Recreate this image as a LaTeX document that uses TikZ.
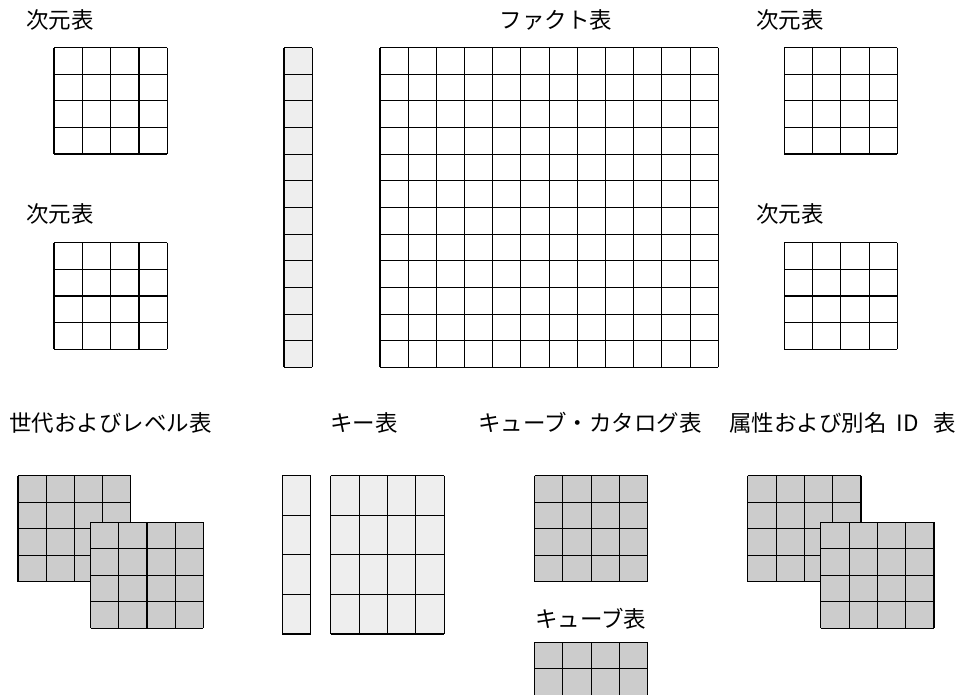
\documentclass[tikz,border=0pt]{standalone}
\usepackage{fontspec}
\setmainfont{Noto Sans CJK JP}
\usepackage{tikz}
\usepackage{xcolor}
\definecolor{keygray}{HTML}{EEEEEE}
\definecolor{metagray}{HTML}{CCCCCC}
\tikzstyle{tabletitle} = [anchor=base west, 
inner sep=0pt, 
font=\fontsize{12.8pt}{15pt}\selectfont]
\tikzstyle{cellline} = [line width=0.6pt, draw=black]
% tabla de celdas: x0, y0, x1, y1, columnas, filas, relleno
\newcommand{\celltable}[7]{%
  \fill[#7] (#1,#2) rectangle (#3,#4);
  \foreach \ci in {0,...,#5}
    \draw[cellline] ({#1+(#3-#1)*\ci/#5},#2) -- ({#1+(#3-#1)*\ci/#5},#4);
  \foreach \ri in {0,...,#6}
    \draw[cellline] (#1,{#2+(#4-#2)*\ri/#6}) -- (#3,{#2+(#4-#2)*\ri/#6});
}
\begin{document}
\begin{tikzpicture}[x=0.02cm, y=-0.02cm]
        \useasboundingbox (0,0) rectangle (967,695);
        \clip (0,0) rectangle (967,695);

        % --- Titulos ---
        \node (dimTL) [tabletitle] at (26,29) {次元表};
        \node (dimML) [tabletitle] at (26,223) {次元表};
        \node (fact) [tabletitle, anchor=base] at (556,29) {ファクト表};
        \node (dimTR) [tabletitle] at (756,29) {次元表};
        \node (dimMR) [tabletitle] at (756,223) {次元表};
        \node (gen) [tabletitle] at (9,432) {世代およびレベル表};
        \node (key) [tabletitle] at (330,432) {キー表};
        \node (catalog) [tabletitle] at (478,432) {キューブ・カタログ表};
        \node (attr) [tabletitle] at (729,432) {属性および別名\hspace{0.45em}ID\hspace{0.65em}表};
        \node (cube) [tabletitle] at (535,627) {キューブ表};

        % --- Esquema en estrella ---
        \celltable{54}{47.7}{167.3}{154}{4}{4}{white}
        \celltable{54}{242.7}{167.3}{349.3}{4}{4}{white}
        \celltable{284}{47.7}{312.3}{367.3}{1}{12}{keygray}
        \celltable{380}{47.7}{718.3}{367.3}{12}{12}{white}
        \celltable{784.3}{47.7}{897.3}{154}{4}{4}{white}
        \celltable{784.3}{242.7}{897.3}{349.3}{4}{4}{white}

        % --- Tablas de metadatos ---
        \celltable{18}{475.7}{130.7}{581.7}{4}{4}{metagray}
        \celltable{90.7}{522.3}{203.3}{628.3}{4}{4}{metagray}
        \celltable{282.3}{475.7}{310.7}{634}{1}{4}{keygray}
        \celltable{330.7}{475.7}{444.3}{634}{4}{4}{keygray}
        \celltable{534.7}{475.7}{647.7}{581.7}{4}{4}{metagray}
        \celltable{534.7}{642.3}{647.7}{748.6}{4}{4}{metagray}
        \celltable{747.7}{475.7}{861}{581.7}{4}{4}{metagray}
        \celltable{820.7}{522.3}{934}{628.3}{4}{4}{metagray}

    \end{tikzpicture}
\end{document}
